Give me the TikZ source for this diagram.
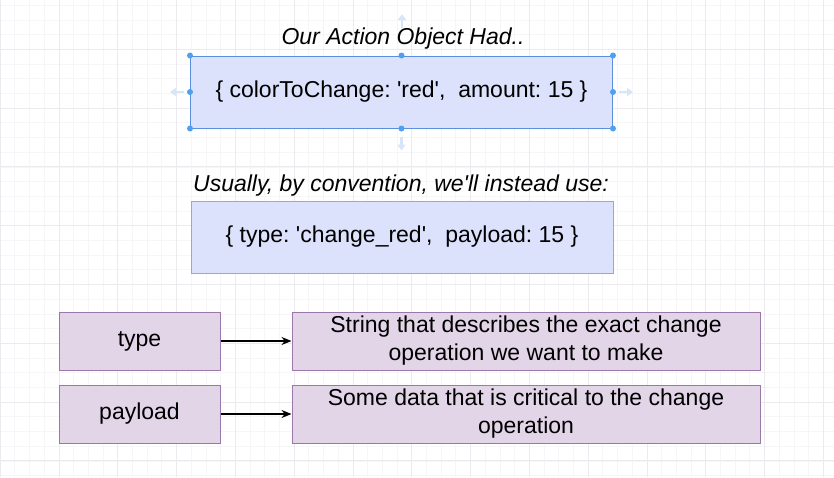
\documentclass[tikz,border=0pt]{standalone}
\usepackage{fontspec}
\setmainfont{Liberation Sans}
\usetikzlibrary{arrows.meta}
\definecolor{gridminor}{HTML}{F6F5F8}
\definecolor{gridmajor}{HTML}{ECEAEF}
\definecolor{bluefill}{HTML}{DCE2FB}
\definecolor{blueline}{HTML}{9AA6D4}
\definecolor{selline}{HTML}{5B8FE0}
\definecolor{handle}{HTML}{4EA0F2}
\definecolor{ghost}{HTML}{D6E6F8}
\definecolor{purplefill}{HTML}{E2D5E8}
\definecolor{purpleline}{HTML}{9C78AA}
\newcommand{\sq}{\textquotesingle}
\frenchspacing
\begin{document}
\begin{tikzpicture}[x=1pt,y=-1pt,
  txt/.style={font=\fontsize{23}{28}\selectfont},
  objbox/.style={draw=blueline,line width=1pt,fill=bluefill,txt,minimum width=422pt,minimum height=72pt},
  keybox/.style={draw=purpleline,line width=1pt,fill=purplefill,txt,minimum width=161pt,minimum height=58pt},
  descbox/.style={draw=purpleline,line width=1pt,fill=purplefill,txt,minimum width=468pt,minimum height=58pt,align=center,inner sep=1pt},
  grip/.style={circle,fill=handle,inner sep=0pt,minimum size=6pt},
  hint/.style={-{Triangle[length=6pt,width=8pt]},draw=ghost,line width=2.5pt}]
\useasboundingbox (0,0) rectangle (834,477);
% background grid
\foreach \gx in {0,14.7,...,834} \draw[gridminor,line width=0.6pt] (\gx,0) -- (\gx,477);
\foreach \gy in {5.1,19.8,...,477} \draw[gridminor,line width=0.6pt] (0,\gy) -- (834,\gy);
\foreach \gx in {0.2,59,...,834} \draw[gridmajor,line width=0.8pt] (\gx,0) -- (\gx,477);
\foreach \gy in {49.2,108,...,477} \draw[gridmajor,line width=0.8pt] (0,\gy) -- (834,\gy);
% selection hints behind the title
\coordinate (up) at (402,28);
\draw[hint] (up) -- ++(0,-14);
% titles
\node[txt,font=\fontsize{23}{28}\selectfont\itshape] (hadtitle) at (403,39) {Our Action Object Had..};
\node[txt,font=\fontsize{23}{28}\selectfont\itshape] (usetitle) at (401,186) {Usually, by convention, we\sq ll instead use:};
% the two objects
\node[objbox,draw=selline] (had) at (401.5,92) {\{ colorToChange: \sq red\sq,\ \ amount: 15 \}};
\node[objbox] (use) at (402,237) {\{ type: \sq change\_red\sq,\ \ payload: 15 \}};
% selection handles
\draw[hint] (had.south) ++(0,8) -- ++(0,14);
\draw[hint] (had.west) ++(-6,0) -- ++(-14,0);
\draw[hint] (had.east) ++(6,0) -- ++(14,0);
\foreach \a in {north west,north,north east,west,east,south west,south,south east}
  \node[grip] at (had.\a) {};
% keys and descriptions
\node[keybox] (type) at (139.5,341) {type};
\node[keybox] (payload) at (139.5,414) {payload};
\node[descbox] (typedesc) at (526,341) {String that describes the exact change\\operation we want to make};
\node[descbox] (payloaddesc) at (526,414) {Some data that is critical to the change\\operation};
\draw[-{Stealth[length=10pt,width=8pt]},line width=1.3pt] (type) -- (typedesc);
\draw[-{Stealth[length=10pt,width=8pt]},line width=1.3pt] (payload) -- (payloaddesc);
\end{tikzpicture}
\end{document}
